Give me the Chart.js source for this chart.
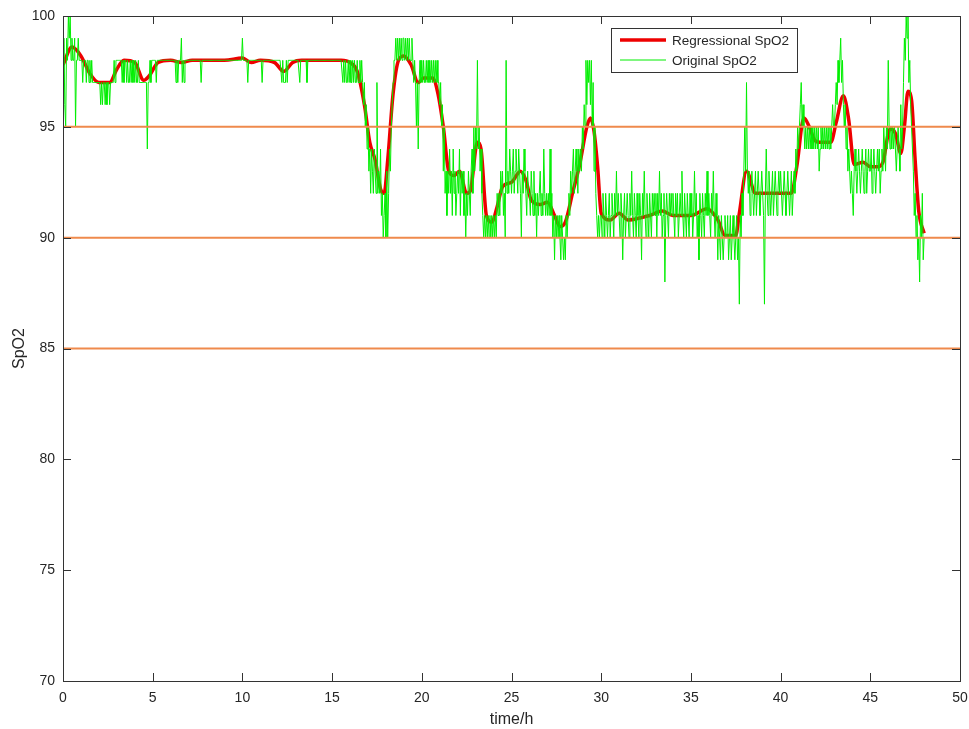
<!DOCTYPE html>
<html>
<head>
<meta charset="utf-8">
<title>SpO2</title>
<script src="https://cdn.jsdelivr.net/npm/chart.js@4.4.1/dist/chart.umd.min.js"></script>
<style>
    html, body { margin: 0; padding: 0; background: #fff; }
    #wrap { width: 969px; height: 729px; }
</style>
</head>
<body>
<div id="wrap"><canvas id="spo2-chart" width="969" height="729"></canvas></div>
<script>
// axis ticks
var xTicks = [0, 5, 10, 15, 20, 25, 30, 35, 40, 45, 50];
var yTicks = [70, 75, 80, 85, 90, 95, 100];
// orange threshold lines
var refLevels = [95, 90, 85];

// regressional SpO2 (smooth curve)
var regTime = [0, 0.5, 1.0, 1.5, 2.0, 2.6, 3.0, 3.4, 4.0, 4.5, 4.8, 5.3, 6.0, 6.6, 7.2, 8.0, 9.0, 10.0, 10.5, 11.0,
    11.8, 12.3, 12.8, 13.3, 14.5, 15.5, 16.0, 16.4, 16.8, 17.1, 17.4, 17.7, 17.9, 18.1, 18.4, 18.7, 19.0, 19.4, 19.8, 20.1,
    20.6, 20.9, 21.2, 21.5, 21.8, 22.1, 22.5, 22.7, 23.1, 23.3, 23.6, 23.9, 24.2, 24.5, 25.0, 25.5, 25.8, 26.1, 26.6, 27.0,
    27.4, 27.7, 28.0, 28.4, 28.8, 29.2, 29.4, 29.6, 29.8, 30.0, 30.5, 31.0, 31.5, 32.2, 32.7, 33.4, 34.0, 35.0, 35.9, 36.5,
    36.9, 37.5, 37.7, 38.1, 38.6, 39.2, 40.0, 40.6, 40.9, 41.3, 41.6, 41.9, 42.2, 42.8, 43.1, 43.5, 43.8, 44.1, 44.6, 45.0,
    45.4, 45.7, 46.1, 46.4, 46.7, 46.9, 47.1, 47.3, 47.5, 47.7, 48.0];
var regSpO2 = [97.8, 98.6, 98.2, 97.4, 97.0, 97.0, 97.6, 98.0, 97.9, 97.1, 97.3, 97.9, 98.0, 97.9, 98.0, 98.0, 98.0, 98.1, 97.9, 98.0,
    97.9, 97.5, 97.9, 98.0, 98.0, 98.0, 97.9, 97.5, 96.0, 94.3, 93.5, 92.2, 92.0, 93.5, 96.5, 98.0, 98.2, 97.8, 97.0, 97.2,
    97.2, 96.5, 95.0, 93.0, 92.8, 93.0, 92.0, 92.1, 94.3, 94.0, 91.0, 90.7, 91.4, 92.3, 92.5, 93.0, 92.6, 91.7, 91.5, 91.6,
    91.0, 90.5, 90.7, 92.0, 93.3, 95.0, 95.4, 94.8, 93.2, 91.1, 90.8, 91.1, 90.8, 90.9, 91.0, 91.2, 91.0, 91.0, 91.3, 90.8,
    90.1, 90.1, 91.1, 93.0, 92.0, 92.0, 92.0, 92.0, 93.2, 95.4, 95.0, 94.4, 94.3, 94.3, 95.2, 96.4, 95.3, 93.3, 93.4, 93.2,
    93.2, 93.4, 94.9, 94.7, 93.8, 95.0, 96.6, 96.2, 93.5, 91.2, 90.2];

// original SpO2, one reading every 0.05 h from t = 0 (20 per row = 1 hour)
var origStep = 0.05;
var origSpO2 = [
    97, 99, 96, 95, 99, 98, 100, 99, 100, 98, 99, 98, 98, 99, 95, 98, 98, 99, 98, 98,   // 0 h
    98, 98, 97, 98, 98, 98, 97, 98, 98, 97, 98, 97, 98, 97, 97, 97, 97, 97, 97, 97,
    97, 97, 96, 97, 96, 97, 97, 96, 97, 96, 97, 97, 96, 97, 97, 97, 97, 98, 97, 98,
    98, 98, 98, 98, 98, 98, 97, 98, 97, 98, 98, 97, 98, 97, 97, 98, 97, 98, 97, 98,
    97, 98, 97, 97, 98, 97, 97, 97, 97, 97, 97, 97, 97, 97, 94, 97, 97, 98, 97, 98,
    98, 98, 98, 98, 97, 98, 98, 98, 98, 98, 98, 98, 98, 98, 98, 98, 98, 98, 98, 98,     // 5 h
    98, 98, 98, 98, 98, 98, 97, 98, 97, 98, 98, 98, 99, 97, 98, 97, 98, 98, 98, 98,
    98, 98, 98, 98, 98, 98, 98, 98, 98, 98, 98, 98, 98, 98, 97, 98, 98, 98, 98, 98,
    98, 98, 98, 98, 98, 98, 98, 98, 98, 98, 98, 98, 98, 98, 98, 98, 98, 98, 98, 98,
    98, 98, 98, 98, 98, 98, 98, 98, 98, 98, 98, 98, 98, 98, 98, 98, 98, 98, 98, 98,
    99, 98, 98, 98, 98, 98, 97, 98, 98, 98, 98, 98, 98, 98, 98, 98, 98, 98, 98, 98,     // 10 h
    98, 98, 97, 98, 98, 98, 98, 98, 98, 98, 98, 98, 98, 98, 98, 98, 98, 98, 98, 98,
    98, 98, 98, 98, 97, 98, 97, 97, 97, 98, 97, 98, 98, 98, 98, 98, 98, 98, 98, 98,
    98, 98, 98, 98, 97, 98, 98, 98, 98, 98, 98, 98, 97, 98, 98, 98, 98, 98, 98, 98,
    98, 98, 98, 98, 98, 98, 98, 98, 98, 98, 98, 98, 98, 98, 98, 98, 98, 98, 98, 98,
    98, 98, 98, 98, 98, 98, 98, 98, 98, 98, 98, 98, 97, 98, 97, 98, 97, 97, 98, 97,     // 15 h
    98, 97, 97, 98, 97, 98, 97, 97, 98, 97, 97, 98, 97, 98, 97, 96, 97, 95, 96, 94,
    95, 93, 94, 92, 94, 93, 92, 94, 93, 92, 97, 92, 93, 92, 94, 91, 92, 90, 91, 92,
    90, 93, 90, 92, 94, 93, 95, 96, 97, 98, 98, 99, 98, 99, 98, 99, 98, 99, 98, 99,
    99, 98, 99, 98, 99, 98, 99, 98, 98, 99, 98, 97, 98, 97, 95, 97, 94, 97, 98, 97,
    98, 97, 98, 97, 97, 98, 97, 98, 97, 98, 97, 98, 97, 98, 97, 98, 97, 98, 97, 97,     // 20 h
    96, 97, 95, 96, 93, 95, 92, 93, 91, 93, 92, 94, 92, 93, 91, 94, 92, 93, 91, 92,
    93, 92, 94, 91, 93, 92, 93, 91, 92, 90, 92, 91, 93, 92, 91, 93, 94, 92, 95, 93,
    95, 94, 98, 94, 95, 93, 94, 92, 91, 90, 91, 90, 91, 90, 91, 90, 91, 90, 91, 90,
    91, 90, 91, 90, 92, 91, 92, 91, 93, 92, 93, 91, 92, 90, 98, 92, 93, 92, 94, 93,
    92, 93, 94, 92, 93, 94, 93, 92, 94, 93, 92, 90, 93, 92, 94, 93, 92, 91, 93, 92,     // 25 h
    92, 91, 93, 92, 91, 93, 91, 92, 90, 92, 91, 92, 93, 91, 92, 91, 94, 92, 91, 92,
    91, 92, 91, 94, 91, 92, 90, 91, 89, 91, 90, 91, 90, 91, 90, 89, 91, 90, 89, 90,
    89, 91, 90, 91, 92, 91, 93, 92, 93, 94, 92, 93, 94, 93, 92, 94, 93, 94, 93, 95,
    94, 96, 95, 98, 96, 98, 97, 98, 96, 98, 95, 97, 93, 95, 92, 91, 90, 91, 90, 91,
    91, 90, 92, 91, 90, 92, 91, 90, 91, 92, 90, 91, 92, 91, 90, 92, 91, 93, 91, 92,     // 30 h
    91, 90, 92, 91, 89, 91, 92, 90, 91, 92, 91, 90, 92, 91, 93, 91, 90, 92, 91, 90,
    92, 91, 90, 92, 91, 89, 92, 91, 93, 91, 90, 92, 91, 90, 92, 91, 90, 92, 91, 92,
    91, 92, 90, 92, 91, 93, 91, 92, 90, 91, 92, 88, 91, 92, 91, 90, 92, 91, 92, 91,
    92, 91, 90, 92, 91, 92, 90, 91, 92, 91, 93, 91, 90, 92, 91, 90, 92, 91, 90, 92,
    91, 92, 90, 91, 93, 91, 92, 90, 91, 89, 92, 91, 90, 92, 91, 90, 92, 91, 93, 91,     // 35 h
    92, 91, 90, 92, 91, 93, 91, 90, 92, 91, 89, 91, 90, 89, 91, 90, 89, 90, 91, 90,
    90, 91, 89, 90, 91, 89, 90, 91, 90, 89, 90, 91, 89, 90, 87, 91, 90, 92, 91, 93,
    95, 93, 97, 93, 92, 93, 91, 92, 93, 92, 91, 92, 93, 91, 92, 93, 92, 91, 92, 93,
    92, 91, 87, 92, 94, 92, 91, 93, 92, 91, 92, 93, 91, 92, 93, 92, 91, 92, 93, 92,
    93, 92, 91, 92, 93, 92, 91, 92, 93, 92, 91, 92, 93, 91, 92, 93, 92, 94, 93, 95,     // 40 h
    94, 95, 96, 97, 95, 96, 95, 94, 95, 94, 95, 94, 95, 94, 95, 94, 95, 94, 95, 94,
    95, 94, 95, 93, 94, 95, 94, 95, 94, 95, 94, 95, 94, 95, 94, 95, 94, 95, 96, 95,
    95, 96, 97, 96, 98, 97, 98, 99, 97, 98, 96, 95, 96, 94, 95, 93, 94, 93, 92, 93,
    92, 91, 93, 94, 93, 92, 93, 94, 93, 92, 93, 94, 93, 92, 93, 94, 92, 93, 94, 93,
    93, 94, 92, 93, 94, 93, 92, 93, 94, 93, 94, 92, 93, 94, 93, 95, 94, 93, 95, 94,     // 45 h
    98, 95, 94, 95, 94, 95, 94, 95, 94, 93, 94, 95, 94, 93, 96, 94, 95, 97, 99, 98,
    100, 99, 100, 97, 98, 96, 95, 94, 93, 91, 92, 90, 91, 89, 90, 88, 91, 90, 92, 89,
    90
];

var regColor = '#ee0000';
var origColor = '#00ee00';
var refColor = '#ef8a4c';
var axisColor = '#333333';
var textColor = '#262626';
var font = 'Liberation Sans, Arial, sans-serif';

var regPoints = regTime.map(function(t, i){ return {x: t, y: regSpO2[i]}; });
var origPoints = origSpO2.map(function(v, i){ return {x: Math.round(i * origStep * 100) / 100, y: v}; });

// order: higher number is drawn first (underneath)
var datasets = [{
    label: 'Regressional SpO2',
    data: regPoints,
    borderColor: regColor,
    backgroundColor: regColor,
    borderWidth: 3.5,
    pointRadius: 0,
    cubicInterpolationMode: 'monotone',
    order: 2
}, {
    label: 'Original SpO2',
    data: origPoints,
    borderColor: origColor,
    backgroundColor: origColor,
    borderWidth: 1,
    pointRadius: 0,
    tension: 0,
    order: 1
}];

refLevels.forEach(function(lv){
    datasets.push({
        label: 'ref' + lv,
        data: [{x: xTicks[0], y: lv}, {x: xTicks[xTicks.length - 1], y: lv}],
        borderColor: refColor,
        borderWidth: 2,
        pointRadius: 0,
        order: 0
    });
});

// box around the plot + inward ticks on all four sides, and the legend
var boxPlugin = {
    id: 'box',
    afterDatasetsDraw: function(chart){
        var ctx = chart.ctx, a = chart.chartArea;
        var sx = chart.scales.x, sy = chart.scales.y;
        ctx.save();
        ctx.strokeStyle = axisColor;
        ctx.lineWidth = 1;
        ctx.strokeRect(a.left + 0.5, a.top + 0.5, a.right - a.left, a.bottom - a.top);
        ctx.beginPath();
        xTicks.forEach(function(v){
            var px = Math.round(sx.getPixelForValue(v)) + 0.5;
            ctx.moveTo(px, a.bottom); ctx.lineTo(px, a.bottom - 8);
            ctx.moveTo(px, a.top); ctx.lineTo(px, a.top + 8);
        });
        yTicks.forEach(function(v){
            var py = Math.round(sy.getPixelForValue(v)) + 0.5;
            ctx.moveTo(a.left, py); ctx.lineTo(a.left + 8, py);
            ctx.moveTo(a.right, py); ctx.lineTo(a.right - 8, py);
        });
        ctx.stroke();
        ctx.restore();
    },
    afterDraw: function(chart){
        var ctx = chart.ctx;
        var bx = 611, by = 28, bw = 186, bh = 44;
        ctx.save();
        ctx.fillStyle = '#fff';
        ctx.fillRect(bx, by, bw, bh);
        ctx.strokeStyle = axisColor;
        ctx.lineWidth = 1;
        ctx.strokeRect(bx + 0.5, by + 0.5, bw, bh);
        ctx.font = '13.5px ' + font;
        ctx.textBaseline = 'middle';
        ctx.fillStyle = textColor;
        [0, 1].forEach(function(i){
            var ds = chart.data.datasets[i];
            var ly = by + 12 + i * 20;
            ctx.beginPath();
            ctx.strokeStyle = ds.borderColor;
            ctx.lineWidth = ds.borderWidth;
            ctx.moveTo(bx + 9, ly); ctx.lineTo(bx + 55, ly);
            ctx.stroke();
            ctx.fillText(ds.label, bx + 61, ly + 1);
        });
        ctx.restore();
    }
};

new Chart(document.getElementById('spo2-chart').getContext('2d'), {
    type: 'line',
    data: { datasets: datasets },
    options: {
        responsive: false,
        animation: false,
        layout: { padding: { top: 16, right: 9, left: 0, bottom: 0 } },
        plugins: {
            legend: { display: false },
            tooltip: { enabled: false }
        },
        scales: {
            x: {
                type: 'linear',
                min: 0,
                max: 50,
                afterBuildTicks: function(scale){
                    scale.ticks = xTicks.map(function(v){ return {value: v}; });
                },
                afterFit: function(scale){
                    scale.height = 48;
                    scale.paddingLeft = 0;
                    scale.paddingRight = 0;
                },
                grid: { display: false, drawTicks: false },
                border: { display: false },
                ticks: { color: textColor, font: { family: font, size: 14 }, padding: 9, maxRotation: 0 },
                title: { display: true, text: 'time/h', color: textColor, font: { family: font, size: 16 }, padding: { top: 2, bottom: 0 } }
            },
            y: {
                type: 'linear',
                min: 70,
                max: 100,
                afterBuildTicks: function(scale){
                    scale.ticks = yTicks.map(function(v){ return {value: v}; });
                },
                afterFit: function(scale){
                    scale.width = 63;
                    scale.paddingTop = 0;
                    scale.paddingBottom = 0;
                },
                grid: { display: false, drawTicks: false },
                border: { display: false },
                ticks: { color: textColor, font: { family: font, size: 14 }, padding: 8 },
                title: { display: true, text: 'SpO2', color: textColor, font: { family: font, size: 16 }, padding: { top: 10, bottom: 0 } }
            }
        }
    },
    plugins: [boxPlugin]
});
</script>
</body>
</html>
